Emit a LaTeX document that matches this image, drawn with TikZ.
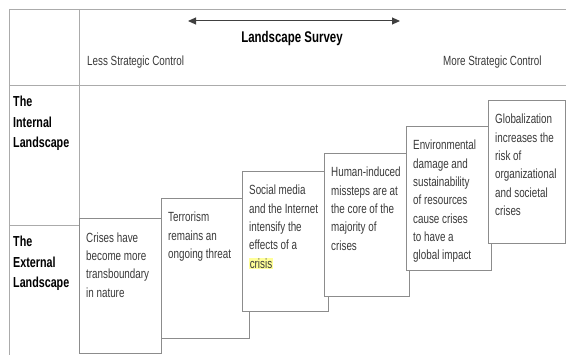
\documentclass[tikz,border=0pt]{standalone}
\usepackage{fontspec}
\setmainfont{Liberation Sans}[FakeStretch=0.74]
\usetikzlibrary{arrows.meta}
\usetikzlibrary{shadows}
\definecolor{txtgray}{HTML}{3A3A3A}
\definecolor{rulegray}{HTML}{ABABAB}
\definecolor{hlyellow}{HTML}{FFFF99}
\newcommand{\hl}[1]{{\setlength{\fboxsep}{0.6pt}\colorbox{hlyellow}{#1}}}

\begin{document}
\begin{tikzpicture}[x=1pt, y=-1pt,
  rule/.style={draw=rulegray, line width=0.8pt},
  stepbox/.style={draw=black!45, fill=white, line width=0.7pt, anchor=north west, inner sep=0pt,
    drop shadow={shadow xshift=0.9pt, shadow yshift=-0.9pt, fill=black!50, opacity=1}},
  boxtext/.style={anchor=north west, align=left, text=txtgray, inner sep=0pt,
    font=\fontsize{13.3}{18.3}\selectfont},
  rowlabel/.style={anchor=north west, align=left, inner sep=0pt,
    font=\bfseries\fontsize{14.5}{20.5}\selectfont},
  headtext/.style={anchor=west, text=txtgray, inner sep=0pt, font=\fontsize{13.3}{15}\selectfont}]
\useasboundingbox (0,0) rectangle (566,355); % keep page size

% table frame
\draw [rule] (9,9) -- (566,9);
\draw [rule] (9,85) -- (566,85);
\draw [rule] (9,9) -- (9,355);
\draw [rule] (79,9) -- (79,218);
\draw [rule] (9,225) -- (79,225);

% header
\coordinate (arrL) at (188,21);
\coordinate (arrR) at (400,21);
\draw [{Triangle[length=8pt,width=7pt]}-{Triangle[length=8pt,width=7pt]}, line width=1pt, draw=black!75] (arrL) -- (arrR);
\node [font=\bfseries\fontsize{15.5}{17}\selectfont] (survey) at (292,38) {Landscape Survey};
\node [headtext] (less) at (87,62) {Less Strategic Control};
\node [headtext] (more) at (443,62) {More Strategic Control};

% row labels
\node [rowlabel] (internal) at (13,96) {The\\Internal\\Landscape};
\node [rowlabel] (external) at (13,236) {The\\External\\Landscape};

% steps
\node [stepbox, minimum width=82pt, minimum height=135pt] (s1) at (79,218) {};
\node [boxtext] (t1) at ([xshift=7pt, yshift=-14.5pt]s1.north west) {Crises have\\become more\\transboundary\\in nature};
\node [stepbox, minimum width=88pt, minimum height=140pt] (s2) at (161,198) {};
\node [boxtext] (t2) at ([xshift=7pt, yshift=-14pt]s2.north west) {Terrorism\\remains an\\ongoing threat};
\node [stepbox, minimum width=86pt, minimum height=140pt] (s3) at (242,171) {};
\node [boxtext] (t3) at ([xshift=7pt, yshift=-14pt]s3.north west) {Social media\\and the Internet\\intensify the\\effects of a\\\hl{crisis}};
\node [stepbox, minimum width=85pt, minimum height=143pt] (s4) at (324,153) {};
\node [boxtext] (t4) at ([xshift=7pt, yshift=-14pt]s4.north west) {Human-induced\\missteps are at\\the core of the\\majority of\\crises};
\node [stepbox, minimum width=85pt, minimum height=144pt] (s5) at (406,126) {};
\node [boxtext] (t5) at ([xshift=7pt, yshift=-14pt]s5.north west) {Environmental\\damage and\\sustainability\\of resources\\cause crises\\to have a\\global impact};
\node [stepbox, minimum width=77pt, minimum height=143pt] (s6) at (488,100) {};
\node [boxtext] (t6) at ([xshift=7pt, yshift=-14pt]s6.north west) {Globalization\\increases the\\risk of\\organizational\\and societal\\crises};
\end{tikzpicture}
\end{document}
